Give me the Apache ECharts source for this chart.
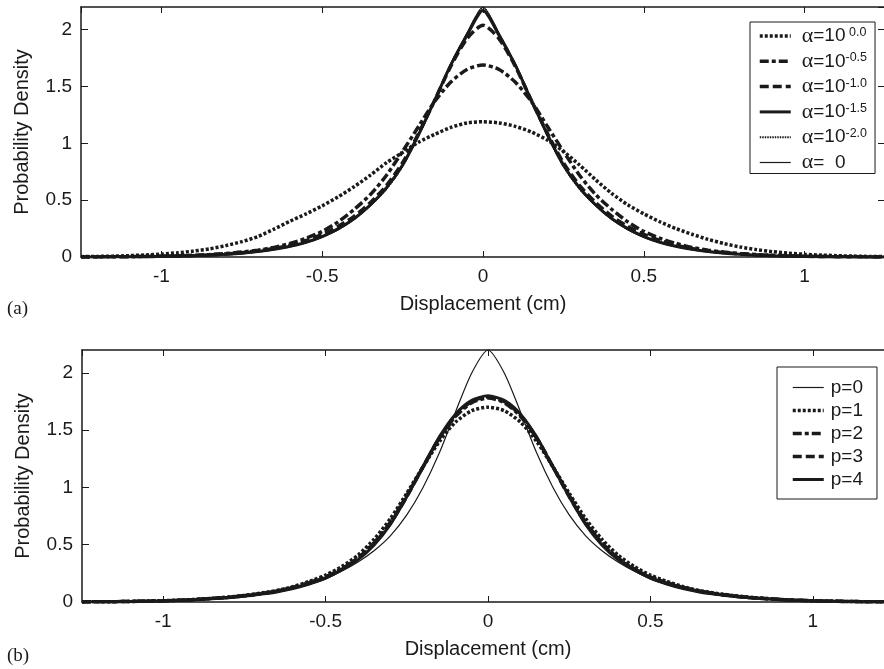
<!DOCTYPE html>
<html>
<head>
<meta charset="utf-8">
<title>Probability Density</title>
<script src="https://cdn.jsdelivr.net/npm/echarts@6/dist/echarts.min.js"></script>
<style>
  html, body { margin: 0; padding: 0; background: #fff; }
  #chart { width: 884px; height: 669px; }
</style>
</head>
<body>
<div id="chart"></div>
<script>
// displacement (cm)
const xs = [-1.25,-1.2,-1.15,-1.1,-1.05,-1,-0.95,-0.9,-0.85,-0.8,-0.75,-0.7,-0.65,-0.6,-0.55,-0.5,-0.45,-0.4,-0.35,-0.3,-0.25,-0.2,-0.15,-0.1,-0.05,
  0,0.05,0.1,0.15,0.2,0.25,0.3,0.35,0.4,0.45,0.5,0.55,0.6,0.65,0.7,0.75,0.8,0.85,0.9,0.95,1,1.05,1.1,1.15,1.2,1.25];

// (a) alpha
const alpha00 = [0.003,0.005,0.008,0.012,0.018,0.026,0.037,0.052,0.072,0.10,0.135,0.18,0.245,0.315,0.38,0.45,0.53,0.62,0.72,0.83,0.92,1.01,1.08,1.14,1.18,
  1.19,1.18,1.15,1.10,1.03,0.93,0.81,0.68,0.56,0.46,0.38,0.31,0.25,0.20,0.155,0.118,0.088,0.065,0.047,0.034,0.024,0.017,0.012,0.008,0.005,0.003];
const alpha05 = [0.001,0.001,0.002,0.003,0.005,0.007,0.011,0.015,0.022,0.031,0.043,0.06,0.085,0.12,0.165,0.225,0.31,0.42,0.55,0.72,0.93,1.15,1.37,1.54,1.65,
  1.69,1.65,1.54,1.37,1.15,0.93,0.72,0.55,0.42,0.31,0.225,0.165,0.12,0.085,0.06,0.043,0.031,0.022,0.015,0.011,0.007,0.005,0.003,0.002,0.001,0.001];
const alpha10 = [0.001,0.001,0.002,0.003,0.004,0.006,0.009,0.013,0.019,0.027,0.038,0.054,0.075,0.105,0.145,0.20,0.27,0.36,0.48,0.63,0.83,1.09,1.38,1.68,1.92,
  2.04,1.92,1.68,1.38,1.09,0.83,0.63,0.48,0.36,0.27,0.20,0.145,0.105,0.075,0.054,0.038,0.027,0.019,0.013,0.009,0.006,0.004,0.003,0.002,0.001,0.001];
const alpha15 = [0.000,0.001,0.001,0.002,0.003,0.005,0.008,0.011,0.016,0.024,0.034,0.048,0.068,0.094,0.13,0.18,0.25,0.34,0.46,0.61,0.81,1.08,1.38,1.69,1.95,
  2.17,1.95,1.69,1.38,1.08,0.81,0.61,0.46,0.34,0.25,0.18,0.13,0.094,0.068,0.048,0.034,0.024,0.016,0.011,0.008,0.005,0.003,0.002,0.001,0.001,0.000];
const alpha20 = [0.000,0.001,0.001,0.002,0.003,0.005,0.007,0.010,0.015,0.023,0.033,0.046,0.066,0.092,0.128,0.178,0.245,0.335,0.455,0.60,0.80,1.07,1.38,1.70,1.96,
  2.19,1.96,1.70,1.38,1.07,0.80,0.60,0.455,0.335,0.245,0.178,0.128,0.092,0.066,0.046,0.033,0.023,0.015,0.010,0.007,0.005,0.003,0.002,0.001,0.001,0.000];
const alphaZero = [0.000,0.001,0.001,0.002,0.003,0.005,0.007,0.010,0.015,0.022,0.032,0.045,0.065,0.09,0.125,0.175,0.24,0.33,0.45,0.60,0.80,1.07,1.38,1.70,1.97,
  2.20,1.97,1.70,1.38,1.07,0.80,0.60,0.45,0.33,0.24,0.175,0.125,0.09,0.065,0.045,0.032,0.022,0.015,0.010,0.007,0.005,0.003,0.002,0.001,0.001,0.000];

// (b) p
const p0 = [0.000,0.001,0.002,0.003,0.005,0.007,0.010,0.015,0.022,0.031,0.043,0.06,0.08,0.11,0.15,0.20,0.27,0.35,0.45,0.58,0.76,1.00,1.30,1.66,2.00,
  2.20,2.00,1.66,1.30,1.00,0.76,0.58,0.45,0.35,0.27,0.20,0.15,0.11,0.08,0.06,0.043,0.031,0.022,0.015,0.010,0.007,0.005,0.003,0.002,0.001,0.000];
const p1 = [0.001,0.002,0.003,0.005,0.008,0.011,0.016,0.023,0.032,0.043,0.058,0.077,0.10,0.135,0.18,0.235,0.31,0.41,0.55,0.73,0.95,1.18,1.40,1.57,1.67,
  1.70,1.67,1.57,1.40,1.18,0.95,0.73,0.55,0.41,0.31,0.235,0.18,0.135,0.10,0.077,0.058,0.043,0.032,0.023,0.016,0.011,0.008,0.005,0.003,0.002,0.001];
const p2 = [0.001,0.002,0.003,0.005,0.007,0.010,0.015,0.021,0.030,0.041,0.055,0.073,0.097,0.128,0.17,0.22,0.29,0.385,0.52,0.70,0.93,1.18,1.43,1.62,1.74,
  1.78,1.74,1.62,1.43,1.18,0.93,0.70,0.52,0.385,0.29,0.22,0.17,0.128,0.097,0.073,0.055,0.041,0.030,0.021,0.015,0.010,0.007,0.005,0.003,0.002,0.001];
const p3 = [0.001,0.002,0.003,0.005,0.007,0.010,0.015,0.021,0.030,0.040,0.054,0.072,0.096,0.126,0.165,0.215,0.285,0.38,0.51,0.69,0.92,1.18,1.43,1.63,1.75,
  1.79,1.75,1.63,1.43,1.18,0.92,0.69,0.51,0.38,0.285,0.215,0.165,0.126,0.096,0.072,0.054,0.040,0.030,0.021,0.015,0.010,0.007,0.005,0.003,0.002,0.001];
const p4 = [0.001,0.002,0.003,0.005,0.007,0.010,0.015,0.021,0.030,0.040,0.054,0.072,0.095,0.125,0.16,0.21,0.28,0.37,0.50,0.68,0.92,1.18,1.44,1.64,1.76,
  1.80,1.76,1.64,1.44,1.18,0.92,0.68,0.50,0.37,0.28,0.21,0.16,0.125,0.095,0.072,0.054,0.040,0.030,0.021,0.015,0.010,0.007,0.005,0.003,0.002,0.001];

const alphaNames = ['α=10^ 0.0', 'α=10^-0.5', 'α=10^-1.0', 'α=10^-1.5', 'α=10^-2.0', 'α=  0'];
const pNames = ['p=0', 'p=1', 'p=2', 'p=3', 'p=4'];

const ink = '#1a1a1a';
const font = 'Liberation Sans';

// line looks shared by series and legend samples
const dotted = { width: 3.5, type: [3, 2] };
const dashDot = { width: 3.5, type: [9, 3, 4, 3] };
const dashed = { width: 3.5, type: [9, 4] };
const thick = { width: 3, type: 'solid' };
const fine = { width: 2, type: [1.5, 1] };
const thin = { width: 1.2, type: 'solid' };

function pairs(ys) {
    return xs.map((x, i) => [x, ys[i]]);
}

function curve(name, ys, idx, look) {
    return {
        name: name,
        type: 'line',
        xAxisIndex: idx,
        yAxisIndex: idx,
        data: pairs(ys),
        showSymbol: false,
        symbol: 'none',
        smooth: 0.25,
        animation: false,
        lineStyle: { color: ink, width: look.width, type: look.type },
        itemStyle: { color: ink }
    };
}

function legendItem(name, look) {
    return { name: name, lineStyle: { color: ink, width: look.width, type: look.type } };
}

function xAxes(grid) {
    return [{
        type: 'value', gridIndex: grid, min: -1.25, max: 1.25, position: 'bottom',
        axisLine: { onZero: false, lineStyle: { color: ink, width: 1.5 } },
        axisTick: { inside: true, length: 6, lineStyle: { color: ink } },
        axisLabel: { margin: 10, fontSize: 19, color: ink, fontFamily: font, showMinLabel: false, showMaxLabel: false },
        splitLine: { show: false },
        name: 'Displacement (cm)', nameLocation: 'middle', nameGap: 37,
        nameTextStyle: { fontSize: 20, color: ink, fontFamily: font }
    }, {
        type: 'value', gridIndex: grid, min: -1.25, max: 1.25, position: 'top',
        axisLine: { onZero: false, lineStyle: { color: ink, width: 1.5 } },
        axisTick: { inside: true, length: 6, lineStyle: { color: ink } },
        axisLabel: { show: false },
        splitLine: { show: false }
    }];
}

function yAxes(grid) {
    return [{
        type: 'value', gridIndex: grid, min: 0, max: 2.2, interval: 0.5, position: 'left',
        axisLine: { show: true, onZero: false, lineStyle: { color: ink, width: 1.5 } },
        axisTick: { show: true, inside: true, length: 7, lineStyle: { color: ink } },
        axisLabel: { margin: 9, fontSize: 19, color: ink, fontFamily: font, showMaxLabel: false },
        splitLine: { show: false },
        name: 'Probability Density', nameLocation: 'middle', nameGap: 49,
        nameTextStyle: { fontSize: 20, color: ink, fontFamily: font }
    }, {
        type: 'value', gridIndex: grid, min: 0, max: 2.2, interval: 0.5, position: 'right',
        axisLine: { show: true, onZero: false, lineStyle: { color: ink, width: 1.5 } },
        axisTick: { show: true, inside: true, length: 7, lineStyle: { color: ink } },
        axisLabel: { show: false },
        splitLine: { show: false }
    }];
}

const xa = xAxes(0).concat(xAxes(1));
const ya = yAxes(0).concat(yAxes(1));
// grid 0 uses axes 0/1, grid 1 uses axes 2/3
const topIdx = 0, botIdx = 2;

const alphaLooks = [dotted, dashDot, dashed, thick, fine, thin];
const pLooks = [thin, dotted, dashDot, dashed, thick];
const alphaSeries = [alpha00, alpha05, alpha10, alpha15, alpha20, alphaZero];
const pSeries = [p0, p1, p2, p3, p4];

const series = alphaNames.map((n, i) => curve(n, alphaSeries[i], topIdx, alphaLooks[i]))
    .concat(pNames.map((n, i) => curve(n, pSeries[i], botIdx, pLooks[i])));

const chart = echarts.init(document.getElementById('chart'), null, { renderer: 'canvas' });
chart.setOption({
    animation: false,
    backgroundColor: '#fff',
    textStyle: { fontFamily: font, color: ink },
    grid: [
        { left: 81, top: 7, width: 804, height: 250, outerBoundsMode: 'none' },
        { left: 82, top: 350, width: 812, height: 252, outerBoundsMode: 'none' }
    ],
    xAxis: xa,
    yAxis: ya,
    legend: [{
        data: alphaNames.map((n, i) => legendItem(n, alphaLooks[i])),
        orient: 'vertical',
        left: 750, top: 22,
        itemWidth: 31, itemHeight: 14, itemGap: 3.3,
        padding: [3, 8, 0, 8],
        borderColor: ink, borderWidth: 1,
        backgroundColor: '#fff',
        selectedMode: false,
        itemStyle: { opacity: 0, borderWidth: 0 },
        formatter: function (name) {
            const parts = name.split('^');
            if (parts.length < 2) {
                return '{g|α}{t|' + name.slice(1) + '}';
            }
            return '{g|α}{t|' + parts[0].slice(1) + '}{s|' + parts[1] + '}';
        },
        textStyle: {
            rich: {
                g: { fontFamily: 'Liberation Serif', fontSize: 22, color: ink, lineHeight: 20, padding: [0, 0, 0, 6] },
                t: { fontFamily: font, fontSize: 19, color: ink, lineHeight: 20 },
                s: { fontFamily: font, fontSize: 12.5, color: ink, lineHeight: 12, verticalAlign: 'top' }
            }
        }
    }, {
        data: pNames.map((n, i) => legendItem(n, pLooks[i])),
        orient: 'vertical',
        left: 777, top: 367,
        itemWidth: 31, itemHeight: 14, itemGap: 4,
        padding: [11, 14, 10, 14],
        borderColor: ink, borderWidth: 1,
        backgroundColor: '#fff',
        selectedMode: false,
        itemStyle: { opacity: 0, borderWidth: 0 },
        textStyle: { fontFamily: font, fontSize: 19, color: ink, lineHeight: 18, padding: [0, 0, 0, 2] }
    }],
    graphic: [
        { type: 'text', left: 7, top: 300, style: { text: '(a)', font: '19px "Liberation Serif"', fill: ink } },
        { type: 'text', left: 7, top: 647, style: { text: '(b)', font: '19px "Liberation Serif"', fill: ink } }
    ],
    series: series
});
</script>
</body>
</html>
